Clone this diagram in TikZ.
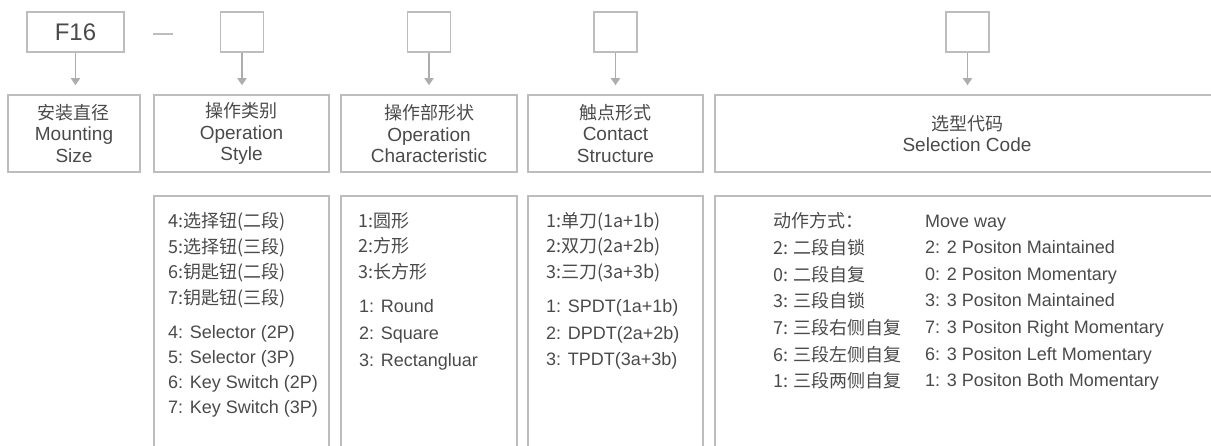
\documentclass[tikz,border=0pt]{standalone}
\usepackage{fontspec}
\setmainfont{Liberation Sans}
\newfontfamily\cjk{Noto Sans CJK SC}
\usetikzlibrary{arrows.meta}
\definecolor{linegray}{HTML}{BDBDBD}
\definecolor{arrowgray}{HTML}{ADADAD}
\definecolor{txt}{HTML}{4A4A4A}
\tikzset{
  topbox/.style={draw=linegray, line width=1.5pt, minimum height=40pt, inner sep=0pt, text=txt},
  hdrbox/.style={draw=linegray, line width=1.5pt, minimum height=77pt, inner sep=0pt, align=center, text=txt, font=\fontsize{19}{21.5}\selectfont},
  conn/.style={draw=arrowgray, line width=1.5pt, -{Triangle[width=9pt,length=7pt]}, shorten >=9pt},
  boxline/.style={draw=linegray, line width=1.5pt},
  item/.style={anchor=base west, inner sep=0pt, text=txt, font=\fontsize{18}{20}\selectfont},
  zh/.style={font=\cjk\fontsize{18}{20}\selectfont}
}
\begin{document}
\begin{tikzpicture}[x=1pt,y=-1pt]
\useasboundingbox (0,0) rectangle (1211,446);
% top code boxes
\node[topbox, minimum width=97pt, font=\fontsize{24}{24}\selectfont] (t1) at (75.5,32) {F16};
\node[topbox, minimum width=43pt] (t2) at (242,32) {};
\node[topbox, minimum width=43pt] (t3) at (429,32) {};
\node[topbox, minimum width=43pt] (t4) at (615.5,32) {};
\node[topbox, minimum width=43pt] (t5) at (967.5,32) {};
\coordinate (d1) at (153,34);
\coordinate (d2) at (173,34);
\draw[boxline] (d1) -- (d2);
% header boxes
\node[hdrbox, minimum width=132pt] (h1) at (74,133.5) {{\cjk\fontsize{18}{21.5}\selectfont 安装直径}\\Mounting\\Size};
\node[hdrbox, minimum width=175pt] (h2) at (241.5,133.5) {{\cjk\fontsize{18}{21.5}\selectfont 操作类别}\\Operation\\Style};
\node[hdrbox, minimum width=176pt] (h3) at (429,133.5) {{\cjk\fontsize{18}{21.5}\selectfont 操作部形状}\\Operation\\Characteristic};
\node[hdrbox, minimum width=175pt] (h4) at (615.5,133.5) {{\cjk\fontsize{18}{21.5}\selectfont 触点形式}\\Contact\\Structure};
\node[hdrbox, draw=none, minimum width=40pt] (h5) at (967,133.5) {{\cjk\fontsize{18}{21.5}\selectfont 选型代码}\\Selection Code};
\draw[boxline] (1211,95) -- (715,95) -- (715,172) -- (1211,172);
% arrows
\draw[conn] (t1.south) -- (t1.south |- h1.north);
\draw[conn] (t2.south) -- (t2.south |- h2.north);
\draw[conn] (t3.south) -- (t3.south |- h3.north);
\draw[conn] (t4.south) -- (t4.south |- h4.north);
\draw[conn] (t5.south) -- (t5.south |- h5.north);
% lower open boxes
\draw[boxline] (154,446) -- (154,196) -- (329,196) -- (329,446);
\draw[boxline] (341,446) -- (341,196) -- (517,196) -- (517,446);
\draw[boxline] (528,446) -- (528,196) -- (703,196) -- (703,446);
\draw[boxline] (715,446) -- (715,196) -- (1211,196);
% operation style
\foreach \t [count=\i] in {4:选择钮(二段),5:选择钮(三段),6:钥匙钮(二段),7:钥匙钮(三段)}
  \node[item, zh] (a\i) at (168,227.5+25.6*\i-25.6) {\t};
\foreach \t [count=\i] in {4: Selector (2P),5: Selector (3P),6: Key Switch (2P),7: Key Switch (3P)}
  \node[item] (b\i) at (168,339+24.8*\i-24.8) {\t};
% characteristic
\foreach \t [count=\i] in {1:圆形,2:方形,3:长方形}
  \node[item, zh] (c\i) at (358,227.5+25.5*\i-25.5) {\t};
\foreach \t [count=\i] in {1: Round,2: Square,3: Rectangluar}
  \node[item] (e\i) at (359,312.5+26.8*\i-26.8) {\t};
% contact
\foreach \t [count=\i] in {1:单刀(1a+1b),2:双刀(2a+2b),3:三刀(3a+3b)}
  \node[item, zh] (f\i) at (546,227.5+25.5*\i-25.5) {\t};
\foreach \t [count=\i] in {1: SPDT(1a+1b),2: DPDT(2a+2b),3: TPDT(3a+3b)}
  \node[item] (g\i) at (546,312.5+26.6*\i-26.6) {\t};
% selection code
\node[item, zh] (m0) at (773,228) {动作方式：};
\node[item] (n0) at (925,228) {Move way};
\foreach \t [count=\i] in {2: 二段自锁,0: 二段自复,3: 三段自锁,7: 三段右侧自复,6: 三段左侧自复,1: 三段两侧自复}
  \node[item, zh] (m\i) at (773,254.5+26.7*\i-26.7) {\t};
\foreach \t [count=\i] in {2: 2 Positon Maintained,0: 2 Positon Momentary,3: 3 Positon Maintained,7: 3 Positon Right Momentary,6: 3 Positon Left Momentary,1: 3 Positon Both Momentary}
  \node[item] (n\i) at (925,253.5+26.7*\i-26.7) {\t};
\end{tikzpicture}
\end{document}
